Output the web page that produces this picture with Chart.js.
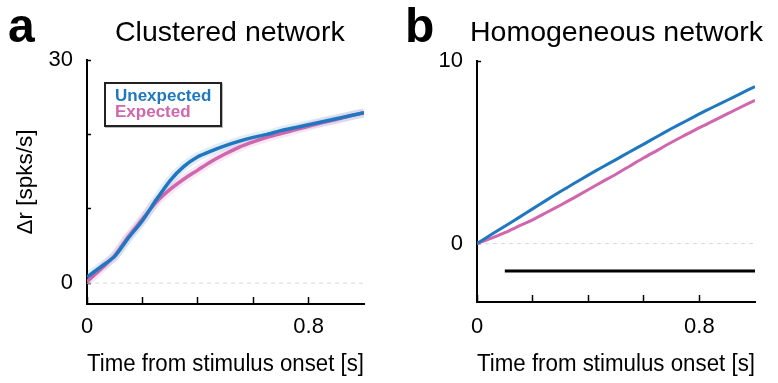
<!DOCTYPE html>
<html>
<head>
<meta charset="utf-8">
<script src="https://cdn.jsdelivr.net/npm/chart.js@4.4.1/dist/chart.umd.min.js"></script>
<style>
  body { margin: 0; background: #fff; font-family: "Liberation Sans", Arial, Helvetica, sans-serif; }
  #wrap { position: relative; width: 778px; height: 383px; overflow: hidden; }
  canvas { position: absolute; top: 0; }
  .letter { position: absolute; font-weight: bold; font-size: 48px; line-height: 48px; color: #000; }
  .title { position: absolute; font-size: 28.5px; line-height: 28px; color: #000; white-space: nowrap; }
  .legend {
    position: absolute; left: 104px; top: 82px; width: 118px; height: 45px;
    box-sizing: border-box; border: 2px solid #222; background: #fff;
    box-shadow: 1px 1px 0 #bbb; padding: 4px 0 0 9px;
    font-weight: bold; font-size: 17px; line-height: 16px;
  }
</style>
</head>
<body>
<div id="wrap">
  <canvas id="panelA" width="389" height="383" style="left:0"></canvas>
  <canvas id="panelB" width="389" height="383" style="left:389px"></canvas>
  <div class="letter" style="left:8px; top:2px">a</div>
  <div class="title" style="left:115px; top:17px">Clustered network</div>
  <div class="letter" style="left:405px; top:2px">b</div>
  <div class="title" style="left:470px; top:17px">Homogeneous network</div>
  <div class="legend">
    <div style="color:#1f77bf">Unexpected</div>
    <div style="color:#d066ae">Expected</div>
  </div>
</div>
<script>
// time from stimulus onset [s]
const TIME = [0, 0.05, 0.1, 0.15, 0.2, 0.25, 0.3, 0.35, 0.4, 0.45, 0.5,
              0.55, 0.6, 0.65, 0.7, 0.75, 0.8, 0.85, 0.9, 0.95, 1.0];

// panel a: clustered network, delta rate [spks/s]
const clusteredUnexpected = [0.8, 2.2, 3.6, 6.1, 8.4, 11.2, 13.8, 15.7, 17.0, 17.8, 18.5,
                             19.1, 19.6, 20.0, 20.5, 20.9, 21.3, 21.7, 22.1, 22.5, 22.9];
const clusteredExpected = [0.2, 1.9, 3.7, 6.3, 8.6, 10.9, 12.6, 14.0, 15.2, 16.4, 17.4,
                           18.3, 19.0, 19.6, 20.1, 20.6, 21.1, 21.6, 22.0, 22.5, 22.9];

// panel b: homogeneous network
const homogUnexpected = [0, 0.48, 0.95, 1.42, 1.9, 2.38, 2.85, 3.3, 3.75, 4.18, 4.6,
                         5.03, 5.45, 5.88, 6.3, 6.7, 7.1, 7.48, 7.85, 8.23, 8.6];
const homogExpected = [0, 0.28, 0.6, 0.95, 1.3, 1.7, 2.1, 2.52, 2.95, 3.38, 3.8,
                       4.25, 4.7, 5.12, 5.55, 5.95, 6.35, 6.72, 7.1, 7.48, 7.85];

// stimulus bar in panel b
const stimTimes = [0.1, 1.0];
const stimLevel = [-1.5, -1.5];

// dashed zero line
const zeroTimes = [0, 1.0];
const zeroLevel = [0, 0];

// ticks
const xTicks = [0, 0.2, 0.4, 0.6, 0.8];
const xTickLabels = [0, 0.8];
const yTicksA = [0, 10, 20, 30];
const yLabelsA = [0, 30];
const yTicksB = [0, 10];
const yLabelsB = [0, 10];

const BLUE = '#1f77bf';
const PINK = '#d066ae';

function toPoints(xs, ys) {
  return xs.map((x, i) => ({ x, y: ys[i] }));
}

function line(xs, ys, color, width, order, extra) {
  return Object.assign({
    data: toPoints(xs, ys),
    borderColor: color,
    borderWidth: width,
    order,
    pointRadius: 0,
    fill: false,
  }, extra || {});
}

function makePanel(id, cfg) {
  const ctx = document.getElementById(id).getContext('2d');
  return new Chart(ctx, {
    type: 'line',
    data: { datasets: cfg.datasets },
    options: {
      responsive: false,
      animation: false,
      events: [],
      layout: { padding: { top: cfg.top, right: cfg.right, bottom: 0, left: 0 } },
      elements: { line: { tension: 0.25 } },
      plugins: { legend: { display: false }, tooltip: { enabled: false } },
      scales: {
        x: {
          type: 'linear',
          min: 0,
          max: 1,
          afterBuildTicks: (s) => { s.ticks = xTicks.map(v => ({ value: v })); },
          afterFit: (s) => { s.height = cfg.xHeight; },
          ticks: {
            font: { size: 22 },
            color: '#000',
            padding: cfg.xPad,
            maxRotation: 0,
            autoSkip: false,
            callback: (v) => xTickLabels.includes(v) ? String(v) : '',
          },
          grid: { drawOnChartArea: false, tickLength: -7, tickColor: '#000', tickWidth: 1.5 },
          border: { color: '#000', width: 2 },
          title: {
            display: true,
            text: 'Time from stimulus onset [s]',
            font: { size: 23 },
            color: '#000',
            padding: { top: 0, bottom: 5 },
          },
        },
        y: {
          type: 'linear',
          min: cfg.yMin,
          max: cfg.yMax,
          afterBuildTicks: (s) => { s.ticks = cfg.yTicks.map(v => ({ value: v })); },
          afterFit: (s) => { s.width = cfg.yWidth; },
          ticks: {
            font: { size: 22 },
            color: '#000',
            padding: 18,
            callback: (v) => cfg.yLabels.includes(v) ? String(v) : '',
          },
          grid: { drawOnChartArea: false, tickLength: -4, tickColor: '#000', tickWidth: 1.5 },
          border: { color: '#000', width: 2 },
          title: {
            display: !!cfg.yTitle,
            text: cfg.yTitle || '',
            font: { size: 22.5 },
            color: '#000',
            padding: { top: 12, bottom: 0 },
          },
        },
      },
    },
  });
}

makePanel('panelA', {
  top: 60, right: 25, xHeight: 79, xPad: 17, yWidth: 87,
  yMin: -2.8, yMax: 30, yTicks: yTicksA, yLabels: yLabelsA,
  yTitle: 'Δr [spks/s]',
  datasets: [
    line(zeroTimes, zeroLevel, '#d9d9d9', 1, 6, { borderDash: [4, 4], tension: 0 }),
    line(TIME, clusteredExpected, 'rgba(208,102,174,0.15)', 9, 5),
    line(TIME, clusteredUnexpected, 'rgba(31,119,191,0.13)', 9, 4),
    line(TIME, clusteredExpected, PINK, 3.5, 2),
    line(TIME, clusteredUnexpected, BLUE, 3.5, 1),
  ],
});

makePanel('panelB', {
  top: 61, right: 23, xHeight: 81, xPad: 19, yWidth: 88,
  yMin: -3.2, yMax: 10, yTicks: yTicksB, yLabels: yLabelsB,
  yTitle: null,
  datasets: [
    line(zeroTimes, zeroLevel, '#d9d9d9', 1, 6, { borderDash: [4, 4], tension: 0 }),
    line(stimTimes, stimLevel, '#000', 3, 3, { tension: 0 }),
    line(TIME, homogExpected, PINK, 3, 2),
    line(TIME, homogUnexpected, BLUE, 3, 1),
  ],
});
</script>
</body>
</html>
